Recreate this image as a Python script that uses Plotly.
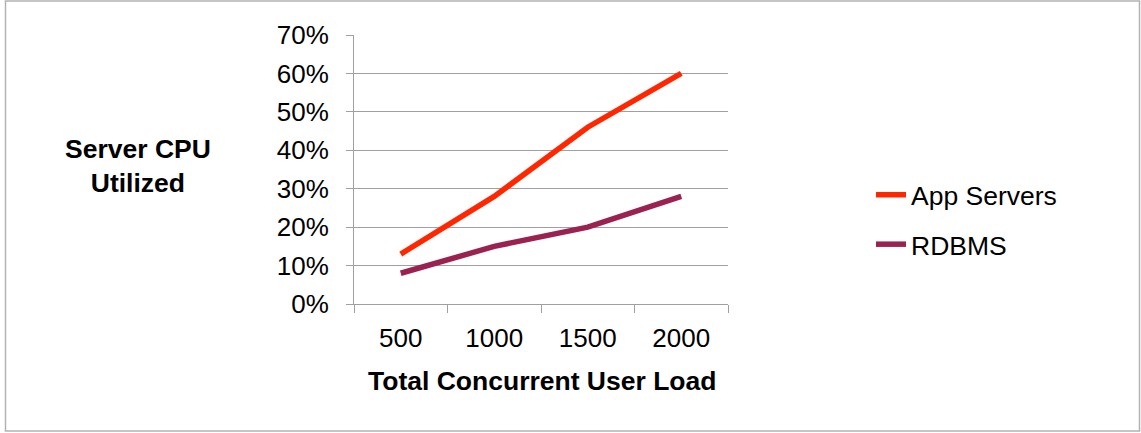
import plotly.graph_objects as go

categories = ["500", "1000", "1500", "2000"]
app_servers = [0.13, 0.28, 0.46, 0.60]
rdbms = [0.08, 0.15, 0.20, 0.28]
y_ticks = [0, 0.1, 0.2, 0.3, 0.4, 0.5, 0.6, 0.7]

W, H = 1141, 433
L, R, T, B = 354, 728, 35, 304
pw, ph = R - L, B - T

def px(x):
    return (x - L) / pw

def py(y):
    return (B - y) / ph

FONT = "Arial, Liberation Sans, sans-serif"

fig = go.Figure()
fig.add_trace(go.Scatter(x=categories, y=app_servers, mode="lines", name="App Servers",
                         line=dict(color="#ff2600", width=5.5), legendgroup="a"))
fig.add_trace(go.Scatter(x=categories, y=rdbms, mode="lines", name="RDBMS",
                         line=dict(color="#9b2150", width=5.5), legendgroup="b"))

fig.update_layout(
    width=W, height=H,
    margin=dict(l=L, r=W - R, t=T, b=H - B),
    paper_bgcolor="white", plot_bgcolor="white",
    font=dict(family=FONT, size=26, color="black"),
    showlegend=True,
    legend=dict(x=px(871), y=py(171), xanchor="left", yanchor="top",
                font=dict(size=26.5), tracegroupgap=12, bgcolor="rgba(0,0,0,0)",
                traceorder="grouped"),
    xaxis=dict(type="category", range=[-0.5, 3.5], tickson="boundaries",
               ticks="outside", ticklen=8, tickcolor="#a0a0a0", tickwidth=1,
               showline=True, linecolor="#a0a0a0", linewidth=1,
               showgrid=False, zeroline=False, ticklabelstandoff=11,
               tickfont=dict(size=26)),
    yaxis=dict(range=[0, 0.7], tickvals=y_ticks, tickformat=".0%",
               ticks="outside", ticklen=7, tickcolor="#a0a0a0", tickwidth=1,
               showline=True, linecolor="#a0a0a0", linewidth=1,
               showgrid=True, gridcolor="#a0a0a0", gridwidth=1, zeroline=False,
               ticklabelstandoff=12, tickfont=dict(size=26)),
    annotations=[
        dict(text="<b>Server CPU<br>Utilized</b>", xref="paper", yref="paper",
             x=px(138), y=py(166), xanchor="center", yanchor="middle",
             showarrow=False, font=dict(size=26.5), align="center"),
        dict(text="<b>Total Concurrent User Load</b>", xref="paper", yref="paper",
             x=px(542), y=py(381), xanchor="center", yanchor="middle",
             showarrow=False, font=dict(size=26.5)),
    ],
    shapes=[
        dict(type="rect", xref="paper", yref="paper",
             x0=px(5.5), x1=px(1139.5), y0=py(431), y1=py(1),
             line=dict(color="#b3b3b3", width=1.5), layer="below"),
    ],
)

fig.write_html("out.html", config={"displayModeBar": False},
               post_script="document.body.style.margin='0';document.body.style.overflow='hidden';")
